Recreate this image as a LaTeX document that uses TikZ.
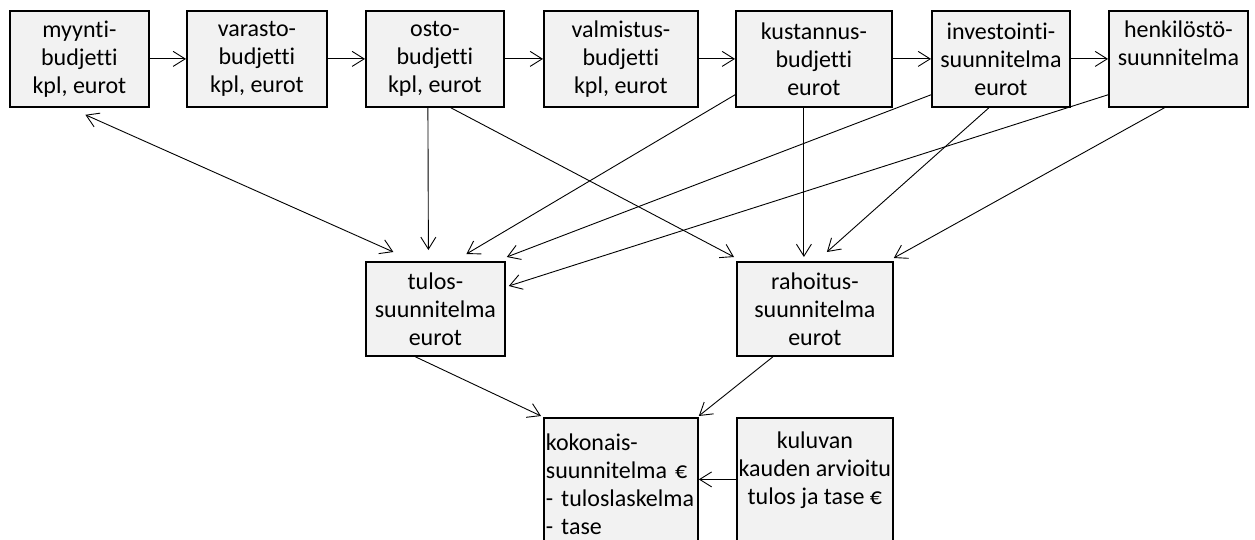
\documentclass[tikz,border=0pt]{standalone}
\usepackage{fontspec}
\setmainfont{Carlito}[Ligatures=NoCommon]
\usetikzlibrary{arrows.meta}
\definecolor{boxfill}{HTML}{F2F2F2}

\begin{document}
\begin{tikzpicture}[x=1pt,y=-1pt,
   >={Straight Barb[length=12pt,width=15pt]},
   box/.style={draw=black,fill=boxfill,line width=1.8pt,anchor=north west,
      inner sep=0pt,align=center,font=\fontsize{24}{28}\selectfont},
   link/.style={line width=0.9pt,->}]

   \path[use as bounding box,clip] (0,0) rectangle (1255,540);

   \node[box,minimum width=139,minimum height=96] (myynti) at (9,10) {myynti-\\budjetti\\kpl, eurot};
   \node[box,minimum width=140,minimum height=96] (varasto) at (186,10) {varasto-\\budjetti\\kpl, eurot};
   \node[box,minimum width=138,minimum height=96] (osto) at (365,10) {osto-\\budjetti\\kpl, eurot};
   \node[box,minimum width=154,minimum height=96] (valmistus) at (543,10) {valmistus-\\budjetti\\kpl, eurot};
   \node[box,minimum width=156,minimum height=96] (kustannus) at (735,10) {kustannus-\\budjetti\\eurot};
   \node[box,minimum width=138,minimum height=96] (investointi) at (931,10) {investointi-\\suunnitelma\\eurot};
   \node[box,minimum width=139,minimum height=96] (henkilosto) at (1108,10) {henkilöstö-\\suunnitelma\\\vphantom{p}};

   \node[box,minimum width=139,minimum height=94] (tulos) at (365,261) {tulos-\\suunnitelma\\eurot};
   \node[box,minimum width=156,minimum height=94] (rahoitus) at (736,261) {rahoitus-\\suunnitelma\\eurot};

   \node[box,minimum width=154,minimum height=133,text width=150,align=left,inner xsep=2pt] (kokonais) at (543,417)
      {kokonais-\\suunnitelma €\\- tuloslaskelma\\- tase};
   \node[box,minimum width=156,minimum height=133] (kuluvan) at (736,417) {kuluvan\\kauden arvioitu\\tulos ja tase €\\\vphantom{p}};

   \draw[link] (myynti.east) -- (varasto.west);
   \draw[link] (varasto.east) -- (osto.west);
   \draw[link] (osto.east) -- (valmistus.west);
   \draw[link] (valmistus.east) -- (kustannus.west);
   \draw[link] (kustannus.east) -- (investointi.west);
   \draw[link] (investointi.east) -- (henkilosto.west);

   \draw[link,<->] ([shift={(6,7)}]myynti.south) -- ([shift={(-42,-9)}]tulos.north);
   \draw[link] ([shift={(-7,0)}]osto.south) -- ([shift={(-7,-11)}]tulos.north);
   \draw[link] ([shift={(16,0)}]osto.south) -- ([shift={(-2,-4)}]rahoitus.north west);
   \draw[link] ([shift={(0,-13)}]kustannus.south west) -- ([shift={(31,-7)}]tulos.north);
   \draw[link] ([shift={(0,-13)}]investointi.south west) -- ([shift={(1,-4)}]tulos.north east);
   \draw[link] ([shift={(0,-13)}]henkilosto.south west) -- ([shift={(3,25)}]tulos.north east);
   \draw[link] ([shift={(-10,0)}]kustannus.south) -- ([shift={(-11,-4)}]rahoitus.north);
   \draw[link] ([shift={(-12,0)}]investointi.south) -- ([shift={(12,-9)}]rahoitus.north);
   \draw[link] ([shift={(-14,0)}]henkilosto.south) -- ([shift={(0,-3)}]rahoitus.north east);

   \draw[link] ([shift={(-20,0)}]tulos.south) -- ([shift={(-2,-1)}]kokonais.north west);
   \draw[link] ([shift={(-42,0)}]rahoitus.south) -- ([shift={(0,-1)}]kokonais.north east);
   \draw[link] ([shift={(0,-5)}]kuluvan.west) -- ([shift={(0,-5)}]kokonais.east);

\end{tikzpicture}
\end{document}
